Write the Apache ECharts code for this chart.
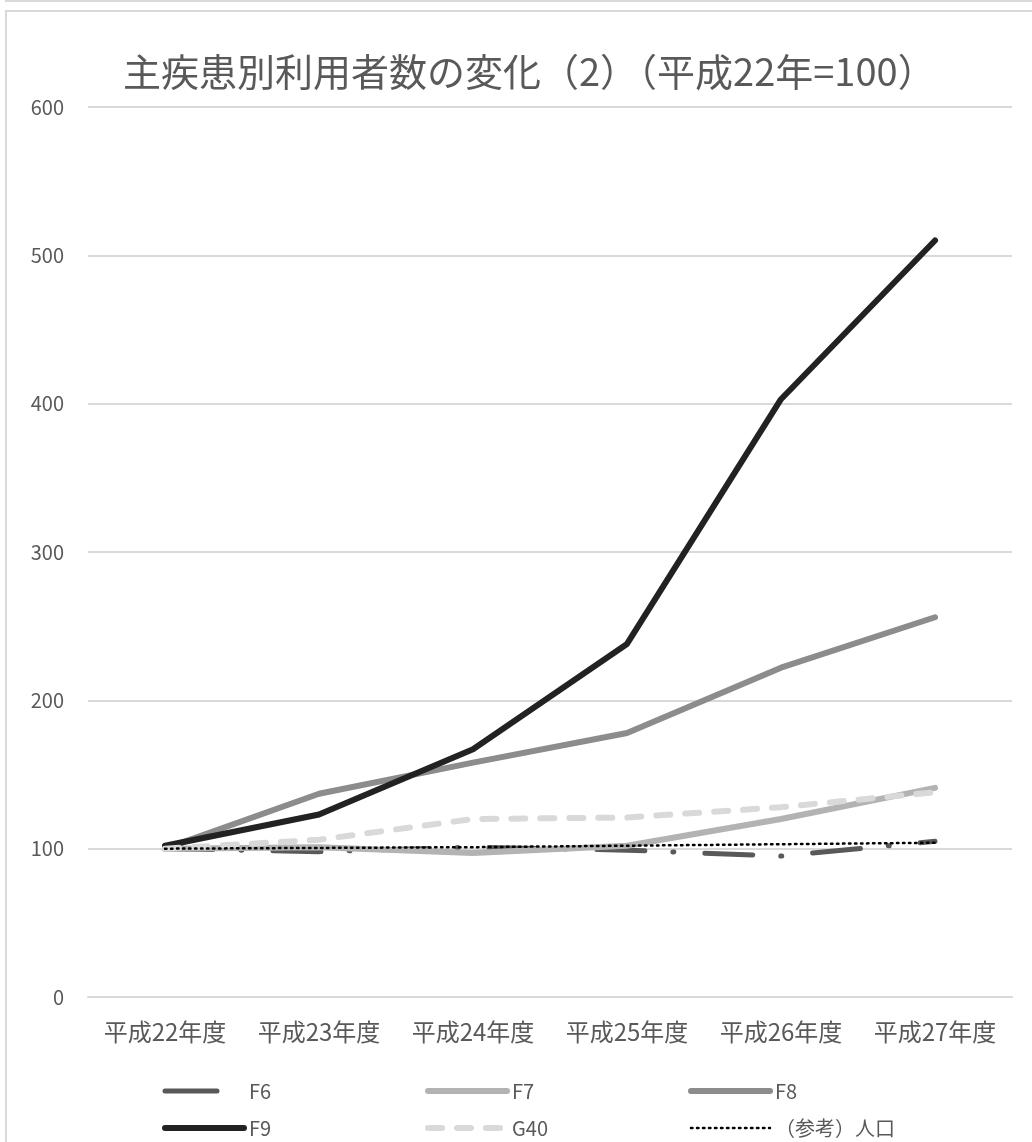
<!DOCTYPE html>
<html>
<head>
<meta charset="utf-8">
<script src="https://cdn.jsdelivr.net/npm/echarts@6/dist/echarts.min.js"></script>
<style>
  html, body { margin: 0; padding: 0; background: #fff; overflow: hidden; }
  #topEdge { position: absolute; left: 5px; top: -10px; width: 1100px; height: 10px; border-bottom: 2px solid #d9d9d9; }
  #frame { position: absolute; left: 5px; top: 10px; width: 1100px; height: 1200px; border: 2px solid #d9d9d9; }
  #chart { position: absolute; left: 0; top: 0; width: 1032px; height: 1142px; }
</style>
</head>
<body>
<div id="topEdge"></div>
<div id="frame"></div>
<div id="chart"></div>
<script>
const years = ["平成22年度", "平成23年度", "平成24年度", "平成25年度", "平成26年度", "平成27年度"];
const f6 = [100, 98, 101, 99, 95, 105];
const f7 = [100, 101, 97, 102, 120, 141];
const f8 = [100, 137, 158, 178, 222, 256];
const f9 = [102, 123, 167, 238, 403, 510];
const g40 = [100, 106, 120, 121, 128, 138];
const population = [100, 100.5, 101, 102, 103, 104];

const font = "'Noto Sans CJK JP', sans-serif";
const textColor = "#595959";

const chart = echarts.init(document.getElementById("chart"));

function line(name, data, color, width, type) {
  return {
    name: name,
    type: "line",
    data: data,
    symbol: "none",
    itemStyle: { color: color },
    lineStyle: { color: color, width: width, type: type, cap: "round", join: "round" },
  };
}

// legend columns, two rows each
function legendCol(left, names) {
  return {
    left: left,
    top: 1081,
    height: 80,
    padding: 0,
    orient: "vertical",
    itemWidth: 79,
    itemHeight: 14,
    itemGap: 17,
    itemStyle: { opacity: 0 },
    lineStyle: { width: "inherit" },
    data: names,
    textStyle: { color: textColor, fontSize: 20, fontFamily: font },
  };
}

chart.setOption({
  animation: false,
  title: {
    text: "主疾患別利用者数の変化（2）（平成22年=100）",
    left: 118,
    top: 48,
    textStyle: { color: textColor, fontSize: 38, fontWeight: "normal", fontFamily: font },
  },
  legend: [
    legendCol(162, [{ name: "F6", lineStyle: { type: [52, 100] } }, "F9"]),
    legendCol(425, ["F7", "G40"]),
    legendCol(688, ["F8", "（参考）人口"]),
  ],
  grid: { left: 88, right: 20, top: 107, bottom: 145 },
  xAxis: {
    type: "category",
    data: years,
    boundaryGap: true,
    axisLine: { lineStyle: { color: "#d9d9d9", width: 2 } },
    axisTick: { show: false },
    axisLabel: { color: textColor, fontSize: 24, fontFamily: font, margin: 23, interval: 0 },
  },
  yAxis: {
    type: "value",
    min: 0,
    max: 600,
    interval: 100,
    axisLine: { show: false },
    axisTick: { show: false },
    axisLabel: { color: textColor, fontSize: 20, fontFamily: font, margin: 24 },
    splitLine: { lineStyle: { color: "#d9d9d9", width: 2 } },
  },
  series: [
    line("F6", f6, "#595959", 5, [48, 28, 1, 31]),
    line("F7", f7, "#b3b3b3", 6, "solid"),
    line("F8", f8, "#8c8c8c", 6, "solid"),
    line("F9", f9, "#222222", 6, "solid"),
    line("G40", g40, "#d9d9d9", 6, [14, 15]),
    line("（参考）人口", population, "#000000", 2.5, [1.5, 4.5]),
  ],
});
</script>
</body>
</html>
